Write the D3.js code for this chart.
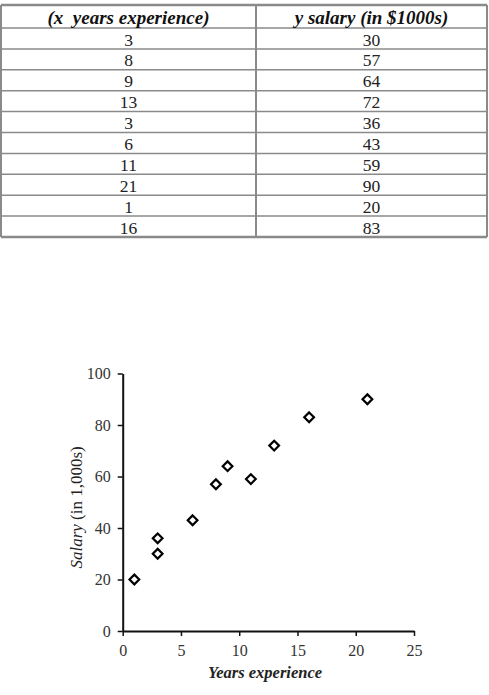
<!DOCTYPE html>
<html><head><meta charset="utf-8">
<script src="https://cdn.jsdelivr.net/npm/d3@7"></script>
<style>body{margin:0;background:#fff;}svg{display:block;}</style>
</head><body>
<script>
const headers = ["(x  years experience)", "y salary (in $1000s)"];
const years = [3, 8, 9, 13, 3, 6, 11, 21, 1, 16];
const salary = [30, 57, 64, 72, 36, 43, 59, 90, 20, 83];
const xTicks = [0, 5, 10, 15, 20, 25];
const yTicks = [0, 20, 40, 60, 80, 100];

const W = 489, H = 695;
const svg = d3.select("body").append("svg").attr("width", W).attr("height", H);
const font = "'Liberation Serif','Times New Roman',serif";

// ---- table ----
const tTop = 5, headH = 23, rowH = 20.9, colX = [1, 256, 487];
const rowY = d3.scaleLinear().domain([0, years.length]).range([tTop + headH, tTop + headH + rowH * years.length]);
const tb = svg.append("g");
const lineC = "#8a8a8a";
const hl = [tTop].concat(d3.range(years.length + 1).map(i => rowY(i)));
tb.selectAll("line.h").data(hl).join("line")
  .attr("x1", colX[0]).attr("x2", colX[2]).attr("y1", d => d).attr("y2", d => d)
  .attr("stroke", lineC).attr("stroke-width", (d, i) => (i === 0 || i === hl.length - 1) ? 2.5 : 1.5);
tb.selectAll("line.v").data(colX).join("line")
  .attr("x1", d => d).attr("x2", d => d).attr("y1", tTop).attr("y2", rowY(years.length))
  .attr("stroke", lineC).attr("stroke-width", 2);
tb.selectAll("text.hd").data(headers).join("text")
  .attr("x", (d, i) => (colX[i] + colX[i + 1]) / 2).attr("y", tTop + headH / 2 + 1)
  .attr("dy", "0.35em").attr("text-anchor", "middle")
  .attr("font-family", font).attr("font-size", 19).attr("font-weight", "bold").attr("font-style", "italic")
  .attr("fill", "#111").attr("xml:space", "preserve").text(d => d);
const rows = years.map((y, i) => [y, salary[i]]);
rows.forEach((r, i) => {
  r.forEach((v, j) => {
    tb.append("text").attr("x", (colX[j] + colX[j + 1]) / 2).attr("y", rowY(i) + rowH / 2 + 1)
      .attr("dy", "0.35em").attr("text-anchor", "middle")
      .attr("font-family", font).attr("font-size", 17.5).attr("fill", "#222").text(v);
  });
});

// ---- scatter ----
const x = d3.scaleLinear().domain([0, 25]).range([122.7, 414]);
const y = d3.scaleLinear().domain([0, 100]).range([631, 373.5]);
const g = svg.append("g");
const xAxis = g.append("g").attr("transform", `translate(0,${y(0)})`)
  .call(d3.axisBottom(x).tickValues(xTicks).tickSize(5).tickPadding(9).tickSizeOuter(0));
const yAxis = g.append("g").attr("transform", `translate(${x(0)},0)`)
  .call(d3.axisLeft(y).tickValues(yTicks).tickSize(5).tickPadding(7).tickSizeOuter(0));
[xAxis, yAxis].forEach(a => {
  a.select(".domain").attr("stroke", "#111").attr("stroke-width", 2);
  a.selectAll(".tick line").attr("stroke", "#111").attr("stroke-width", 1.5);
  a.selectAll(".tick text").attr("font-family", font).attr("font-size", 16).attr("fill", "#333");
});

const diamond = d3.symbol().type(d3.symbolDiamond2).size(60);
g.selectAll("path.pt").data(rows).join("path")
  .attr("transform", d => `translate(${x(d[0])},${y(d[1])})`)
  .attr("d", diamond).attr("fill", "#fff").attr("stroke", "#000").attr("stroke-width", 2.2);

g.append("text").attr("x", 265).attr("y", 678).attr("text-anchor", "middle")
  .attr("font-family", font).attr("font-size", 16.5).attr("font-weight", "bold").attr("font-style", "italic")
  .attr("fill", "#222").text("Years experience");
const yl = g.append("text").attr("transform", `translate(82,${y(48)}) rotate(-90)`).attr("text-anchor", "middle")
  .attr("font-family", font).attr("font-size", 17).attr("fill", "#222");
yl.append("tspan").attr("font-style", "italic").text("Salary");
yl.append("tspan").text(" (in 1,000s)");
</script>
</body></html>
